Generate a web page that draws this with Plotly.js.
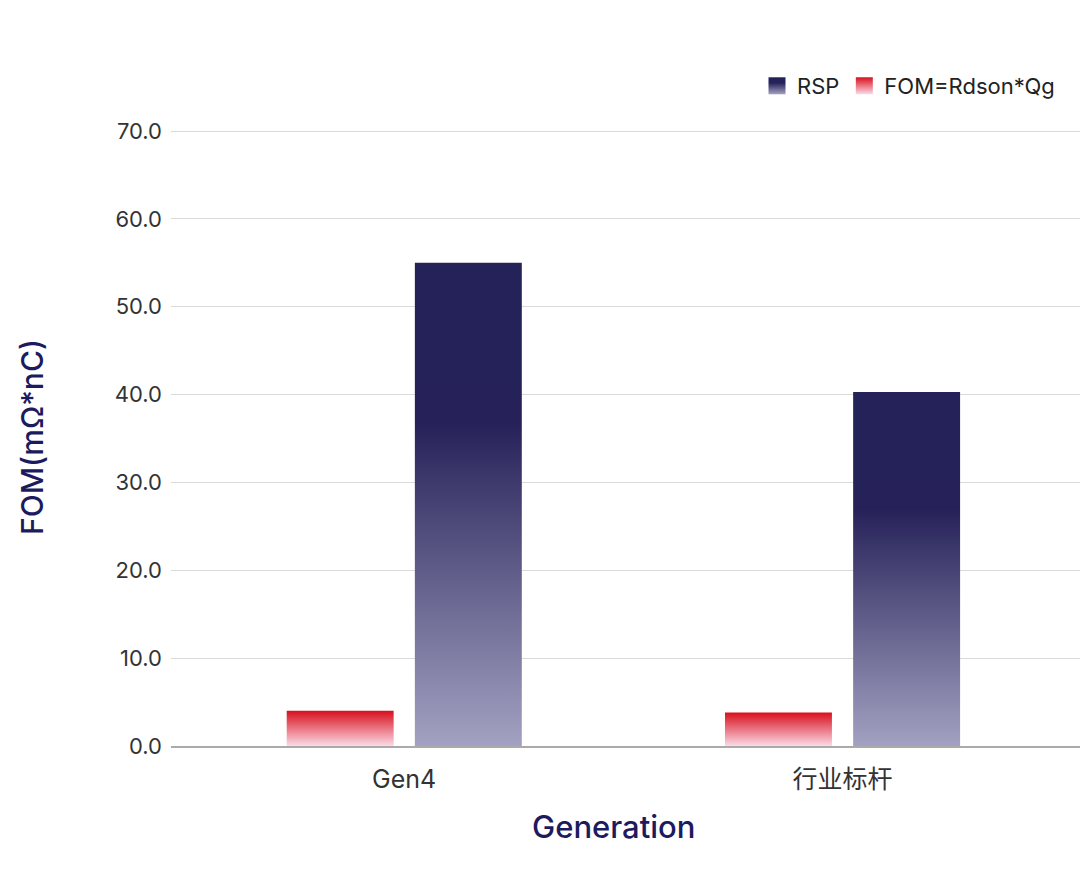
<!DOCTYPE html>
<html>
<head>
<meta charset="utf-8">
<script src="https://cdn.plot.ly/plotly-3.0.1.min.js"></script>
<style>
html,body{margin:0;padding:0;background:#fff;}
#chart{width:1080px;height:876px;}
</style>
</head>
<body>
<svg width="0" height="0" style="position:absolute">
  <defs>
    <linearGradient id="gradNavy" x1="0" y1="0" x2="0" y2="1">
      <stop offset="0" stop-color="#252159"/>
      <stop offset="0.33" stop-color="#262259"/>
      <stop offset="1" stop-color="#a3a1c1"/>
    </linearGradient>
    <linearGradient id="gradRed" x1="0" y1="0" x2="0" y2="1">
      <stop offset="0" stop-color="#d9101e"/>
      <stop offset="1" stop-color="#fadbe6"/>
    </linearGradient>
  </defs>
</svg>
<div id="chart"></div>
<script>
var categories = ["Gen4", "行业标杆"];
var fomValues = [4.0, 3.8];
var rspValues = [55.0, 40.3];
var seriesNames = ["FOM=Rdson*Qg", "RSP"];
var yTickValues = [0, 10, 20, 30, 40, 50, 60, 70];
var xTitle = "Generation";
var yTitle = "FOM(mΩ*nC)";

var baseFont = "Inter, 'Noto Sans CJK SC', sans-serif";

var traces = [
  {
    type: "bar",
    name: seriesNames[0],
    x: categories,
    y: fomValues,
    width: 0.244,
    offset: -0.268,
    marker: {color: "#e0314a", line: {width: 0}}
  },
  {
    type: "bar",
    name: seriesNames[1],
    x: categories,
    y: rspValues,
    width: 0.244,
    offset: 0.0244,
    marker: {color: "#4a4777", line: {width: 0}}
  }
];

var layout = {
  width: 1080,
  height: 876,
  margin: {l: 171, r: 0, t: 128, b: 130},
  paper_bgcolor: "#ffffff",
  plot_bgcolor: "#ffffff",
  barmode: "overlay",
  showlegend: true,
  font: {family: baseFont, color: "#333333"},
  legend: {
    orientation: "h",
    traceorder: "reversed",
    x: 0.978,
    xanchor: "right",
    y: 1.068,
    yanchor: "middle",
    font: {size: 22, color: "#222222", family: baseFont},
    bgcolor: "rgba(0,0,0,0)"
  },
  xaxis: {
    type: "category",
    range: [-0.532, 1.542],
    showgrid: false,
    showline: true,
    linecolor: "#aaaaaa",
    linewidth: 2,
    ticks: "",
    ticklabelstandoff: 10,
    tickfont: {size: 25, color: "#333333", family: baseFont},
    fixedrange: true
  },
  yaxis: {
    range: [0, 70.35],
    tickvals: yTickValues,
    tickformat: ".1f",
    showgrid: true,
    gridcolor: "#d9d9d9",
    gridwidth: 1,
    zeroline: false,
    showline: false,
    ticks: "",
    ticklabelstandoff: 8,
    tickfont: {size: 22, color: "#333333", family: baseFont},
    title: {text: yTitle, font: {size: 30, color: "#1b1b5e", family: baseFont, weight: 500}, standoff: 62},
    fixedrange: true
  },
  annotations: [
    {
      text: xTitle,
      xref: "paper", yref: "paper",
      x: 0.487, y: -0.131,
      xanchor: "center", yanchor: "middle",
      showarrow: false,
      font: {size: 31, color: "#1b1b5e", family: baseFont, weight: 500}
    }
  ]
};

function applyGradients() {
  var gd = document.getElementById("chart");
  var barTraces = gd.querySelectorAll(".barlayer .trace.bars");
  var grads = ["url(#gradRed)", "url(#gradNavy)"];
  barTraces.forEach(function (t, i) {
    t.querySelectorAll("path").forEach(function (p) {
      p.style.fill = grads[i];
      p.style.fillOpacity = 1;
    });
  });
  var items = gd.querySelectorAll(".legend .traces");
  items.forEach(function (it) {
    var txt = it.querySelector("text.legendtext");
    var label = txt ? txt.textContent : "";
    var g = label === seriesNames[0] ? "url(#gradRed)" : "url(#gradNavy)";
    it.querySelectorAll(".legendpoints path").forEach(function (p) {
      p.setAttribute("d", "M8.5,8.5H-8.5V-8.5H8.5Z");
      p.style.fill = g;
      p.style.stroke = "none";
    });
  });
}

Plotly.newPlot("chart", traces, layout, {staticPlot: true, displayModeBar: false}).then(applyGradients);
</script>
</body>
</html>
